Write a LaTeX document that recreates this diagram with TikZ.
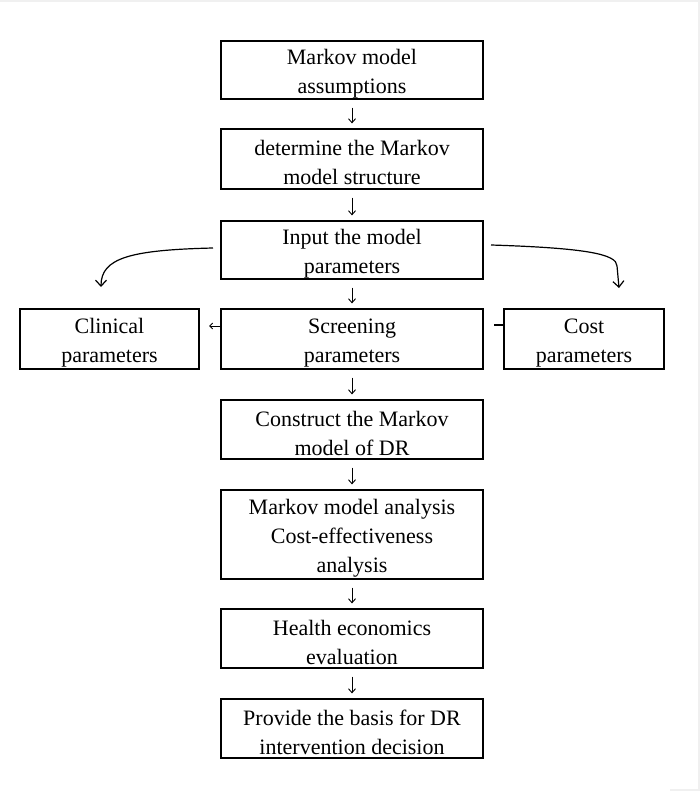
\documentclass[tikz,border=0pt]{standalone}
\usepackage{fontspec}
\setmainfont{Liberation Serif}
\usetikzlibrary{arrows.meta}
\newcommand{\tstr}{\rule{0pt}{22.6pt}}
\begin{document}
\begin{tikzpicture}[x=1pt,y=-1pt,
  box/.style={draw=black, line width=1.2pt, rectangle, align=center, inner sep=0pt,
    font=\fontsize{22}{29}\selectfont},
  mainbox/.style={box, minimum width=262pt},
  flow/.style={line width=1pt, -{Straight Barb[length=4pt,width=7pt,line width=0.9pt]}},
  curvearrow/.style={line width=1.2pt, -{Straight Barb[length=6pt,width=11pt,line width=1.2pt]}}
]
\useasboundingbox (0,0) rectangle (700,791);
\draw[gray!12, line width=2pt] (0,1) -- (699,1) -- (699,790) -- (670,790);

\node[mainbox, minimum height=58pt] (b1) at (352,70) {\tstr Markov model\\assumptions};
\node[mainbox, minimum height=60pt] (b2) at (352,159) {\tstr determine the Markov\\model structure};
\node[mainbox, minimum height=58pt] (b3) at (352,250) {\tstr Input the model\\parameters};
\node[mainbox, minimum height=60pt] (b4) at (352,339) {\tstr Screening\\parameters};
\node[box, minimum width=179pt, minimum height=60pt] (cl) at (109.5,339) {\tstr Clinical\\parameters};
\node[box, minimum width=160pt, minimum height=60pt] (co) at (584,339) {\tstr Cost\\parameters};
\node[mainbox, minimum height=59pt] (b5) at (352,429.5) {\tstr Construct the Markov\\model of DR};
\node[mainbox, minimum height=89pt] (b6) at (352,534.5) {\tstr Markov model analysis\\Cost-effectiveness\\analysis};
\node[mainbox, minimum height=59pt] (b7) at (352,638.5) {\tstr Health economics\\evaluation};
\node[mainbox, minimum height=59pt] (b8) at (352,728.5) {\tstr Provide the basis for DR\\intervention decision};

\foreach \a/\b in {b1/b2,b2/b3,b3/b4,b4/b5,b5/b6,b6/b7,b7/b8}{
  \draw[flow] ([yshift=-8pt]\a.south) -- ([yshift=5pt]\b.north);
}

% side connectors
\coordinate (lt) at (209,326);
\draw[line width=1pt, -{Straight Barb[length=3pt,width=6pt,line width=0.9pt]}] (b4.west |- lt) -- (lt);
\coordinate (rt) at (494,325);
\draw[line width=1.2pt] (co.west |- rt) -- (rt);

% curved arrows
\coordinate (ls) at (213,248);
\coordinate (le) at (101,287);
\coordinate (rs) at (491,245);
\coordinate (re) at (619,288);
\draw[curvearrow] (ls) .. controls (130,250) and (101,258) .. (le);
\draw[curvearrow] (rs) .. controls (585,248) and (617,254) .. (617,266) -- (re);
\end{tikzpicture}
\end{document}
